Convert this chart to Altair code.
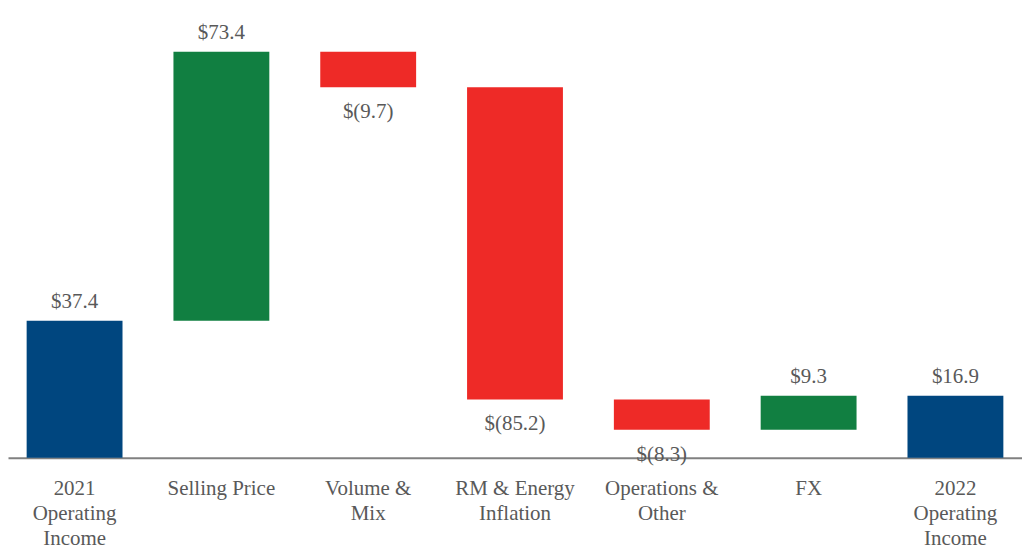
import altair as alt
import pandas as pd

categories = [
    "2021\nOperating\nIncome",
    "Selling Price",
    "Volume &\nMix",
    "RM & Energy\nInflation",
    "Operations &\nOther",
    "FX",
    "2022\nOperating\nIncome",
]
amounts = [37.4, 73.4, -9.7, -85.2, -8.3, 9.3, 16.9]
kinds = ["total", "increase", "decrease", "decrease", "decrease", "increase", "total"]
labels = ["$37.4", "$73.4", "$(9.7)", "$(85.2)", "$(8.3)", "$9.3", "$16.9"]

rows = []
running = 0.0
for c, a, k, l in zip(categories, amounts, kinds, labels):
    if k == "total":
        start, end = 0.0, a
        running = a
    else:
        start = running
        end = running + a
        running = end
    top = max(start, end)
    bottom = min(start, end)
    rows.append(dict(cat=c, start=start, end=end, kind=k, label=l,
                     top=top, bottom=bottom))
df = pd.DataFrame(rows)

FONT = "Times New Roman, Tinos, Liberation Serif, Noto Serif, DejaVu Serif, serif"
TXT = "#595959"

x = alt.X("cat:N", sort=categories, title=None,
          scale=alt.Scale(paddingInner=0.347, paddingOuter=0.127),
          axis=alt.Axis(labelAngle=0, labelFont=FONT, labelFontSize=21,
                        labelColor=TXT, labelLineHeight=25,
                        labelBaseline="alphabetic", labelPadding=37,
                        ticks=False, tickSize=0, domainColor="#808080",
                        domainWidth=2, labelExpr="split(datum.label, '\\n')"))
y_scale = alt.Scale(domain=[0, 122.6], nice=False, zero=True)

bars = alt.Chart(df).mark_bar().encode(
    x=x,
    y=alt.Y("start:Q", scale=y_scale, axis=None),
    y2="end:Q",
    color=alt.Color("kind:N", legend=None,
                    scale=alt.Scale(domain=["total", "increase", "decrease"],
                                    range=["#00467F", "#117F41", "#EE2A27"])),
)

pos = alt.Chart(df).transform_filter("datum.kind != 'decrease'").mark_text(
    font=FONT, fontSize=21, color=TXT, baseline="alphabetic", dy=-13
).encode(x=alt.X("cat:N", sort=categories), y=alt.Y("top:Q", scale=y_scale), text="label:N")

neg = alt.Chart(df).transform_filter("datum.kind == 'decrease'").mark_text(
    font=FONT, fontSize=21, color=TXT, baseline="alphabetic", dy=31
).encode(x=alt.X("cat:N", sort=categories), y=alt.Y("bottom:Q", scale=y_scale), text="label:N")

chart = alt.layer(bars, pos, neg).properties(
    width=1016, height=450,
    autosize=alt.AutoSizeParams(type="none"),
    padding={"left": 0, "top": 0, "right": 0, "bottom": 91},
).configure(background="white", font=FONT).configure_view(stroke=None)

chart.save("out.html", embed_options={"renderer": "svg", "actions": False})
